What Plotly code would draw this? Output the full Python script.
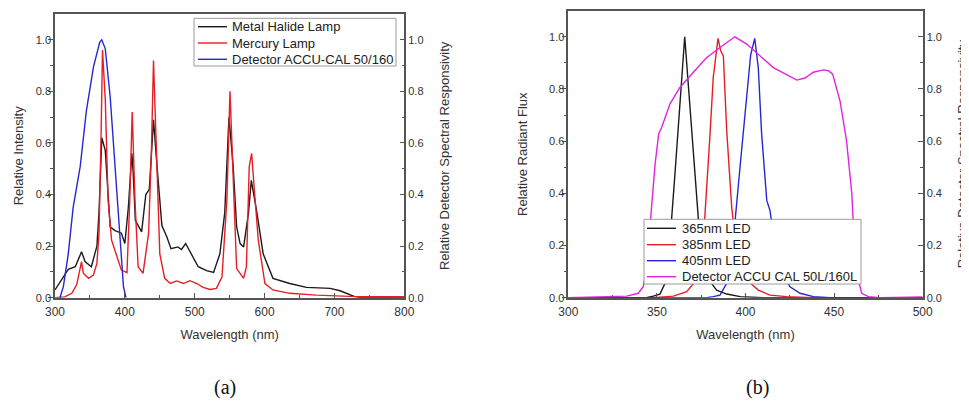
import plotly.graph_objects as go

# ---------------- Data: panel (a) ----------------
mh_wl = [300, 316, 319, 329, 338, 343, 352, 360, 363, 367, 372, 379, 386, 395, 400, 405, 410, 412,
         415, 424, 430, 435, 441, 446, 453, 460, 466, 476, 481, 487, 496, 505, 517, 527, 536, 543,
         549, 555, 560, 565, 570, 577, 581, 589, 598, 612, 636, 660, 694, 708, 729, 740, 800]
mh_val = [0.03, 0.10, 0.11, 0.12, 0.178, 0.14, 0.12, 0.20, 0.33, 0.62, 0.57, 0.275, 0.26, 0.25, 0.21,
          0.35, 0.56, 0.48, 0.30, 0.255, 0.40, 0.42, 0.69, 0.51, 0.28, 0.236, 0.19, 0.197, 0.187, 0.21,
          0.165, 0.12, 0.105, 0.098, 0.17, 0.33, 0.70, 0.51, 0.275, 0.21, 0.197, 0.33, 0.455, 0.33,
          0.17, 0.075, 0.055, 0.04, 0.036, 0.027, 0.004, 0.0, 0.0]

hg_wl = [300, 314, 324, 331, 338, 340.5, 348, 355, 360, 363, 366, 368, 372, 376, 381, 388, 395, 403,
         407, 410.5, 414.5, 419, 426, 434, 438, 441, 444.5, 450, 457, 465, 474, 484, 493, 503, 512,
         522, 531, 539, 546, 550.5, 555, 560, 570, 574, 578, 581.5, 585, 591, 600.5, 612, 636, 674,
         722, 800]
hg_val = [0.0, 0.003, 0.017, 0.05, 0.14, 0.095, 0.075, 0.088, 0.133, 0.25, 0.64, 0.96, 0.765, 0.378,
          0.223, 0.16, 0.107, 0.097, 0.378, 0.72, 0.378, 0.12, 0.094, 0.25, 0.57, 0.92, 0.61, 0.17,
          0.075, 0.055, 0.065, 0.055, 0.066, 0.055, 0.04, 0.032, 0.036, 0.08, 0.378, 0.80, 0.47,
          0.113, 0.075, 0.12, 0.507, 0.56, 0.43, 0.223, 0.055, 0.03, 0.017, 0.01, 0.005, 0.004]

det_a_wl = [307, 312, 319, 326, 336, 345, 355, 364, 367, 372, 379, 386, 393, 398, 401.6]
det_a_val = [0.0, 0.043, 0.17, 0.35, 0.507, 0.726, 0.894, 0.99, 1.0, 0.965, 0.778, 0.507, 0.223,
             0.043, 0.0]

# ---------------- Data: panel (b) ----------------
det_b_wl = [300, 325, 333, 339.5, 342.3, 344.2, 347, 349, 351, 352.7, 357.4, 363, 370.6, 378, 385.6,
            394, 400.7, 408.2, 415.7, 423.2, 429, 433.6, 438.3, 444, 446.8, 449.2, 453.3, 457, 460,
            461, 462.7, 465.6, 469.3, 476, 491, 500]
det_b_val = [0.0, 0.004, 0.006, 0.017, 0.042, 0.118, 0.335, 0.513, 0.628, 0.653, 0.743, 0.806,
             0.864, 0.92, 0.959, 1.0, 0.972, 0.927, 0.882, 0.855, 0.834, 0.842, 0.864, 0.873, 0.87,
             0.857, 0.755, 0.603, 0.399, 0.259, 0.093, 0.017, 0.004, 0.0, 0.001, 0.003]

led365_wl = [300, 344, 348, 351.7, 354.6, 357.4, 360.2, 363, 365.7, 368.7, 371.5, 374.3, 378, 383.7,
             389.4, 397, 410, 500]
led365_val = [0.0, 0.0, 0.006, 0.014, 0.055, 0.22, 0.475, 0.755, 1.0, 0.728, 0.462, 0.22, 0.08,
              0.029, 0.014, 0.004, 0.0, 0.0]

led385_wl = [300, 348, 359.3, 366.8, 372.4, 376.2, 380, 381.8, 384.5, 386, 387.5, 389.4, 392.2, 395,
             400.7, 407.2, 413.8, 423.2, 438, 500]
led385_val = [0.0, 0.0, 0.006, 0.023, 0.068, 0.22, 0.628, 0.845, 0.994, 0.946, 0.927, 0.64, 0.348,
              0.17, 0.068, 0.029, 0.01, 0.004, 0.0, 0.0]

led405_wl = [300, 378, 381.8, 385.6, 389.4, 393.1, 396.9, 400.7, 402.9, 405.2, 407.2, 409.1, 412,
             413.8, 415.7, 419.5, 425.1, 430.8, 438.3, 447.7, 500]
led405_val = [0.0, 0.0, 0.004, 0.01, 0.055, 0.22, 0.5, 0.755, 0.93, 0.994, 0.883, 0.628, 0.373,
              0.335, 0.246, 0.118, 0.042, 0.017, 0.004, 0.0, 0.0]

names_a = ["Metal Halide Lamp", "Mercury Lamp", "Detector ACCU-CAL 50/160"]
names_b = ["365nm LED", "385nm LED", "405nm LED", "Detector ACCU CAL 50L/160L"]

# ---------------- Figure ----------------
W, H = 969, 417
OFF = 8  # page body margin of the html page
FONT = "Liberation Sans, Arial, sans-serif"
TXT = "#333333"
AX = "#555555"

BLACK = "#1a1a1a"
RED = "#e61e24"
BLUE = "#2626d4"
MAGENTA = "#e024e0"

colors_a = [BLACK, RED, BLUE]
colors_b = [BLACK, RED, BLUE, MAGENTA]


def px(x):
    return (x - OFF) / W


def py(y):
    return 1 - (y - OFF) / H


fig = go.Figure()


def line(x, y, name, color, xa, ya):
    fig.add_trace(go.Scatter(x=x, y=y, name=name, mode="lines", showlegend=False,
                             line=dict(color=color, width=1.4), xaxis=xa, yaxis=ya))


line(mh_wl, mh_val, names_a[0], colors_a[0], "x", "y")
line(hg_wl, hg_val, names_a[1], colors_a[1], "x", "y")
line(det_a_wl, det_a_val, names_a[2], colors_a[2], "x", "y2")

line(led365_wl, led365_val, names_b[0], colors_b[0], "x2", "y3")
line(led385_wl, led385_val, names_b[1], colors_b[1], "x2", "y3")
line(led405_wl, led405_val, names_b[2], colors_b[2], "x2", "y3")
line(det_b_wl, det_b_val, names_b[3], colors_b[3], "x2", "y4")

xtickfont = dict(family=FONT, size=12, color=TXT)
ytickfont = dict(family=FONT, size=11, color=TXT)
titlefont = dict(family=FONT, size=13, color=TXT)


def xax(domain, rng, dtick, anchor):
    return dict(domain=domain, range=rng, dtick=dtick, tick0=rng[0], anchor=anchor,
                automargin=False,
                showgrid=False, zeroline=False, showline=True, linecolor=AX, linewidth=1.5,
                mirror=True, ticks="inside", ticklen=5, tickcolor=AX, tickwidth=1,
                ticklabelstandoff=2,
                minor=dict(dtick=dtick / 2, ticks="inside", ticklen=3, tickcolor=AX),
                tickfont=xtickfont, title=dict(text="Wavelength (nm)", font=titlefont, standoff=12))


def yax(domain, anchor, title, standoff, side="left", overlaying=None):
    d = dict(domain=domain, range=[0, 1.1], tickvals=[0, 0.2, 0.4, 0.6, 0.8, 1.0],
             ticktext=["0.0", "0.2", "0.4", "0.6", "0.8", "1.0"], anchor=anchor, side=side,
             automargin=False,
             showgrid=False, zeroline=False, showline=True, linecolor=AX, linewidth=1.5,
             ticks="outside" if side == "left" else "inside", ticklen=5, tickcolor=AX, tickwidth=1,
             ticklabelstandoff=-5 if side == "left" else 0,
             minor=dict(tickvals=[0.1, 0.3, 0.5, 0.7, 0.9],
                        ticks="outside" if side == "left" else "inside", ticklen=3, tickcolor=AX),
             tickfont=ytickfont, title=dict(text=title, font=titlefont, standoff=standoff))
    if overlaying:
        d["overlaying"] = overlaying
    return d


xa_dom = [px(55), px(404.3)]
xb_dom = [px(568.3), px(922.7)]
ya_dom = [py(297.7), py(14)]
yb_dom = [py(297.7), py(10.7)]

shapes = []
annotations = []


def add_legend(names, colors, box, row_y, line_x0, text_x):
    x0, y0, x1, y1 = box
    shapes.append(dict(type="rect", xref="paper", yref="paper", x0=px(x0), x1=px(x1),
                       y0=py(y1), y1=py(y0), fillcolor="white",
                       line=dict(color="#9a9a9a", width=1), layer="above"))
    for name, col, yy in zip(names, colors, row_y):
        shapes.append(dict(type="line", xref="paper", yref="paper", x0=px(line_x0), x1=px(line_x0 + 29),
                           y0=py(yy), y1=py(yy), line=dict(color=col, width=1.4), layer="above"))
        annotations.append(dict(text=name, xref="paper", yref="paper", x=px(text_x), y=py(yy),
                                xanchor="left", yanchor="middle", showarrow=False,
                                font=dict(family=FONT, size=13, color="#222222")))


add_legend(names_a, colors_a, (194, 18.3, 396, 66), [26.7, 43, 59.3], 198, 230)
add_legend(names_b, colors_b, (644, 219.3, 861, 284), [228.3, 244.7, 260.7, 276.7], 647, 680)

for lab, xx in (("(a)", 225), ("(b)", 757)):
    annotations.append(dict(text=lab, x=px(xx), y=py(387), xref="paper", yref="paper",
                            showarrow=False, xanchor="center", yanchor="middle",
                            font=dict(family="Liberation Serif, Times New Roman, serif", size=20,
                                      color="#111111")))

fig.update_layout(
    width=W, height=H, autosize=False,
    margin=dict(l=0, r=0, t=0, b=0),
    paper_bgcolor="white", plot_bgcolor="white",
    font=dict(family=FONT, color=TXT),
    showlegend=False,
    xaxis=xax(xa_dom, [300, 800], 100, "y"),
    yaxis=yax(ya_dom, "x", "Relative Intensity", 9),
    yaxis2=yax(ya_dom, "x", "Relative Detector Spectral Responsivity", 17, side="right", overlaying="y"),
    xaxis2=xax(xb_dom, [300, 500], 50, "y3"),
    yaxis3=yax(yb_dom, "x2", "Relative Radiant Flux", 18),
    yaxis4=yax(yb_dom, "x2", "Relative Detector Spectral Responsivity", 17, side="right", overlaying="y3"),
    shapes=shapes,
    annotations=annotations,
)

fig.write_html("out.html")
